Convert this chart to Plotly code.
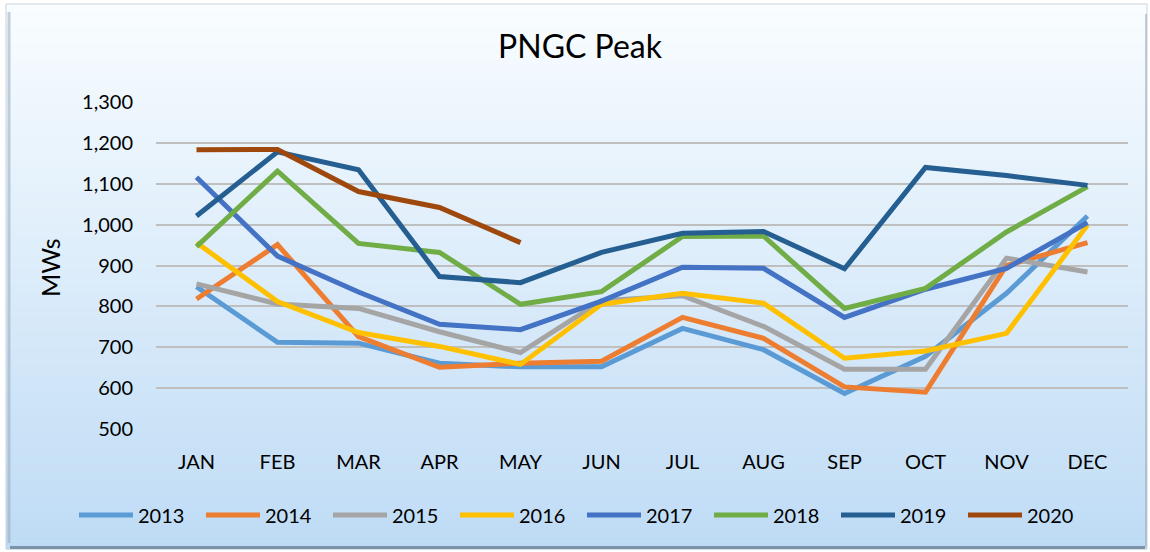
import plotly.graph_objects as go

months = ["JAN", "FEB", "MAR", "APR", "MAY", "JUN", "JUL", "AUG", "SEP", "OCT", "NOV", "DEC"]

y2013 = [848, 712, 710, 661, 652, 652, 746, 694, 587, 678, 832, 1021]
y2014 = [818, 951, 726, 651, 661, 666, 773, 722, 603, 590, 900, 956]
y2015 = [855, 806, 795, 738, 687, 814, 826, 751, 646, 646, 918, 884]
y2016 = [956, 812, 736, 702, 658, 805, 832, 808, 673, 691, 734, 999]
y2017 = [1116, 923, 835, 756, 743, 813, 896, 893, 773, 842, 893, 1005]
y2018 = [946, 1131, 954, 932, 805, 836, 971, 972, 795, 844, 982, 1093]
y2019 = [1021, 1178, 1134, 873, 858, 932, 979, 983, 892, 1140, 1120, 1096]
y2020 = [1183, 1184, 1081, 1042, 956]

series = [
    ("2013", y2013, "#5B9BD5"),
    ("2014", y2014, "#ED7D31"),
    ("2015", y2015, "#A5A5A5"),
    ("2016", y2016, "#FFC000"),
    ("2017", y2017, "#4472C4"),
    ("2018", y2018, "#70AD47"),
    ("2019", y2019, "#255E91"),
    ("2020", y2020, "#9E480E"),
]

W, H = 1150, 552
L, R, T, B = 156, 22, 102, 123
PW, PH = W - L - R, H - T - B


def px(x):
    return (x - L) / PW


def py(y):
    return (H - B - y) / PH


FONT = "Lato, 'Open Sans', sans-serif"

fig = go.Figure()
for name, vals, col in series:
    fig.add_trace(go.Scatter(
        x=months[:len(vals)], y=vals, name=name, mode="lines",
        line=dict(color=col, width=5), hoverinfo="skip",
    ))

shapes = []
# gradient background inside frame
x0f, x1f, y0f, y1f = 6, 1147, 4, 549
top = (249, 253, 255)
bot = (190, 219, 245)
N = 70
for i in range(N):
    t = (i + 0.5) / N
    c = tuple(round(top[k] + (bot[k] - top[k]) * t) for k in range(3))
    ya = y0f + (y1f - y0f) * i / N
    yb = y0f + (y1f - y0f) * (i + 1) / N + 0.6
    shapes.append(dict(type="rect", xref="paper", yref="paper",
                       x0=px(x0f), x1=px(x1f), y0=py(ya), y1=py(yb),
                       fillcolor="rgb(%d,%d,%d)" % c, line=dict(width=0), layer="below"))
# frame edges
shapes.append(dict(type="rect", xref="paper", yref="paper",
                   x0=px(x0f), x1=px(x1f), y0=py(y0f), y1=py(y1f),
                   line=dict(color="#C9D3DD", width=1), fillcolor="rgba(0,0,0,0)", layer="below"))
shapes.append(dict(type="line", xref="paper", yref="paper",
                   x0=px(x0f + 3), x1=px(x0f + 3), y0=py(y0f + 8), y1=py(y1f - 6),
                   line=dict(color="rgba(150,170,190,0.55)", width=3), layer="below"))
shapes.append(dict(type="line", xref="paper", yref="paper",
                   x0=px(x0f + 4), x1=px(x1f - 2), y0=py(y1f - 1.5), y1=py(y1f - 1.5),
                   line=dict(color="#7F93A8", width=3), layer="below"))
shapes.append(dict(type="line", xref="paper", yref="paper",
                   x0=px(x1f - 1), x1=px(x1f - 1), y0=py(y0f + 10), y1=py(y1f - 2),
                   line=dict(color="rgba(160,175,190,0.6)", width=2), layer="below"))

fig.update_layout(
    width=W, height=H,
    margin=dict(l=L, r=R, t=T, b=B, autoexpand=False),
    paper_bgcolor="white",
    plot_bgcolor="rgba(0,0,0,0)",
    shapes=shapes,
    font=dict(family=FONT, color="#000000"),
    title=dict(text="PNGC Peak", x=580 / W, xanchor="center", y=1 - 47 / H, yanchor="middle",
               xref="container", yref="container", font=dict(size=32, family=FONT, color="#000")),
    xaxis=dict(categoryorder="array", categoryarray=months, range=[-0.5, 11.5],
               showgrid=False, showline=False, zeroline=False, ticks="", automargin=False,
               tickfont=dict(size=20, family=FONT, color="#000"), ticklabelstandoff=19),
    yaxis=dict(range=[500, 1300], tickvals=[500, 600, 700, 800, 900, 1000, 1100, 1200, 1300],
               tickformat=",", showgrid=True, gridcolor="#BFBFBF", gridwidth=1.6,
               zeroline=False, showline=False, ticks="", automargin=False,
               tickfont=dict(size=20, family=FONT, color="#000"), ticklabelstandoff=22),
    showlegend=True,
    legend=dict(orientation="h", xref="paper", yref="paper",
                x=px(74), xanchor="left", y=py(515), yanchor="middle",
                font=dict(size=20, family=FONT, color="#000"), bgcolor="rgba(0,0,0,0)",
                entrywidth=58, entrywidthmode="pixels", itemwidth=54),
    annotations=[dict(text="MWs", xref="paper", yref="paper", x=px(50), y=py(268),
                      textangle=-90, showarrow=False, xanchor="center", yanchor="middle",
                      font=dict(size=25, family=FONT, color="#000"))],
)

fig.write_html("out.html", post_script="document.body.style.margin='0';",
               config={"displayModeBar": False})
